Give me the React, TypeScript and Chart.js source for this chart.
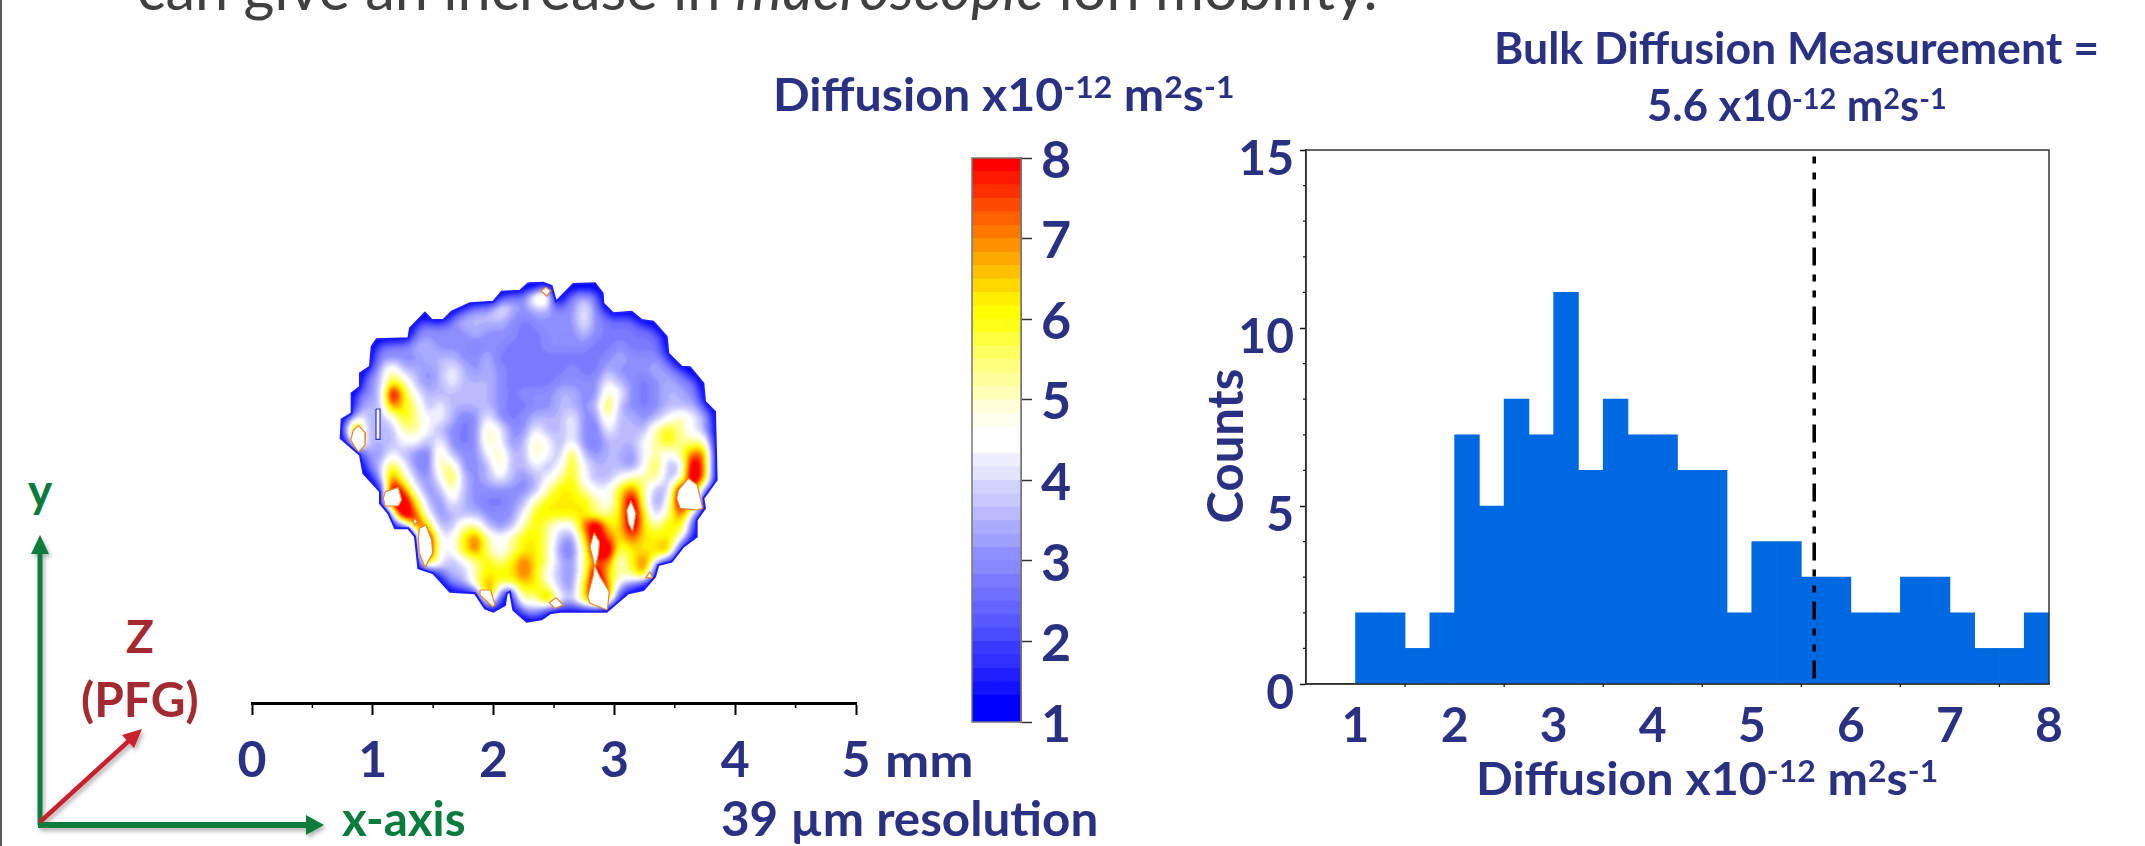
import React, { useEffect, useRef } from "react";
import { Chart, registerables } from "chart.js";
Chart.register(...registerables);

const NAVY = "#2a3183";
const FONT = "Lato, 'Open Sans', sans-serif";

// ---------- histogram ----------
const binCenters = [1.125,1.375,1.625,1.875,2.125,2.375,2.625,2.875,3.125,3.375,3.625,3.875,4.125,4.375,4.625,4.875,5.125,5.375,5.625,5.875,6.125,6.375,6.625,6.875,7.125,7.375,7.625,7.875];
const binCounts = [2,2,1,2,7,5,8,7,11,6,8,7,7,6,6,2,4,4,3,3,2,2,3,3,2,1,1,2];
const bulkDiffusion = 5.63;
const bulkLineTop = 14.82;
const histMinorX = [1.5,2.5,3.5,4.5,5.5,6.5,7.5];
const histMinorY = [1,2,3,4,6,7,8,9,11,12,13,14];

// ---------- colour bar ----------
const bandColors = ["#0000ff","#0000ff","#1212ff","#1f1fff","#2f2fff","#3a3aff","#4a4aff","#5858ff","#6464ff","#7070ff","#7a7aff","#8888ff","#8e8eff","#a0a0ff","#aaaaff","#babaff","#c8c8ff","#d2d2ff","#e4e4ff","#eeeeff","#ffffff","#ffffff","#fffff0","#ffffda","#ffffb8","#ffff9c","#ffff80","#ffff60","#ffff40","#ffff18","#ffff00","#ffee00","#ffd800","#ffc000","#ffa800","#ff9000","#ff7800","#ff6000","#ff4800","#ff3000","#ff1800","#ff0000"];
const barMin = 1;
const barMax = 8;

// ---------- diffusion map (one char per cell, see levelValues) ----------
const levelValues: Record<string, number> = { "0": 1.0, "1": 2.0, "2": 2.7, "3": 3.05, "4": 3.55, "5": 4.4, "6": 5.3, "7": 6.2, "8": 7.3, "9": 9 };
const cellSize = 36;
const cellX0 = 72;
const cellY0 = 78;
const mapRows = [
"00000000000000000600000000000000",
"00000000000004336703430000000000",
"00000000013445434433531000000000",
"00000023334444323333532221000000",
"00000133333433322333432222200000",
"00023344333233222333322322210000",
"00033334443342222222223433320000",
"00246443454343222223224333432000",
"00347643454443222233335432343200",
"03349754444443233344336532344310",
"03448764544443223344347432344430",
"36445765542353234445336443456540",
"58444665432365335445325444676540",
"08444554532365346545324445676660",
"06435432643356446547434435656880",
"00347532663346445457544435744980",
"00048643574345434567544566645980",
"00009853464333334677655786449860",
"00009974354322346777765796359860",
"00008985344433357777766797468600",
"00000797446643467655897797677400",
"00000089557865677643798787776200",
"00000079557865677632699677784000",
"00000008545676787643688578750000",
"00000000344677787543697668300000",
"00000000034686777643798430000000",
"00000000000383666854798200000000",
"00000000000030344433440000000000",
"00000000000000000000000000000000",
];
const outlineX = [625,670,695,708,760,825,848,850,880,935,965,1000,1040,1045,1085,1110,1150,1155,1185,1190,1150,1155,1130,1130,1090,1055,1015,1005,970,925,895,860,720,690,665,620,580,570,560,555,520,495,465,390,340,295,285,265,225,205,180,180,130,120,62,65,95,95,120,120,150,155,170,265,270,315,335,370,395,450,520,545,600,625];
const outlineY = [70,68,78,125,72,70,100,130,160,155,180,185,230,280,320,322,370,425,455,660,715,745,780,830,860,905,915,950,990,1000,1025,1055,1055,1060,1078,1085,1050,995,1000,1035,1055,1045,1000,995,940,925,830,805,805,760,730,695,640,585,535,478,460,400,380,340,320,260,238,235,205,158,180,180,155,130,125,95,92,70];
const holes: number[][][] = [
  [[116,497],[137,520],[135,555],[115,577],[92,540],[100,510],[116,497]],
  [[168,447],[180,447],[180,538],[170,538],[168,447]],
  [[196,695],[235,682],[245,720],[235,738],[195,738],[190,715],[196,695]],
  [[285,775],[292,785],[285,795],[280,785],[285,775]],
  [[298,805],[318,795],[335,840],[338,880],[315,922],[298,880],[295,830],[298,805]],
  [[480,990],[512,990],[525,1035],[518,1040],[480,1005],[480,990]],
  [[708,1013],[730,1035],[705,1045],[688,1028],[708,1013]],
  [[822,818],[838,845],[836,880],[826,920],[840,950],[868,995],[862,1050],[810,1030],[803,1010],[820,945],[823,915],[810,860],[822,818]],
  [[933,722],[948,760],[938,815],[925,790],[920,750],[933,722]],
  [[1105,655],[1132,675],[1148,745],[1130,750],[1080,745],[1070,715],[1075,690],[1105,655]],
  [[677,82],[692,92],[680,108],[663,92],[677,82]],
  [[990,935],[998,955],[978,952],[990,935]],
];
const rulerMinor = [0.5,1.5,2.5,3.5,4.5];

function minorTicks(id: string, axis: string, values: number[], len: number, color: string, w: number) {
  return {
    id,
    afterDraw(chart: any) {
      const s = chart.scales[axis];
      const a = chart.chartArea;
      const c = chart.ctx;
      c.save();
      c.strokeStyle = color;
      c.lineWidth = w;
      c.beginPath();
      for (const v of values) {
        const p = s.getPixelForValue(v);
        if (axis === "x") { c.moveTo(p, a.bottom); c.lineTo(p, a.bottom + len); }
        else { c.moveTo(a.left, p); c.lineTo(a.left - len, p); }
      }
      c.stroke();
      c.restore();
    },
  };
}

function framePlugin(color: string, w: number) {
  return {
    id: "frame",
    afterDatasetsDraw(chart: any) {
      const a = chart.chartArea;
      const c = chart.ctx;
      c.save();
      c.strokeStyle = color;
      c.lineWidth = w;
      c.strokeRect(a.left, a.top, a.right - a.left, a.bottom - a.top);
      c.restore();
    },
  };
}

const fixH = (h: number) => (s: any) => { s.height = h; s.paddingLeft = 0; s.paddingRight = 0; };
const fixW = (w: number) => (s: any) => { s.width = w; s.paddingTop = 0; s.paddingBottom = 0; };

const heatPlugin = {
  id: "heat",
  beforeDatasetsDraw(chart: any) {
    const sx = chart.scales.mapX;
    const sy = chart.scales.mapY;
    const W = chart.width, H = chart.height;
    const cells = chart.data.datasets[0].data;
    const outline = chart.data.datasets[1].data;
    const top = 9;
    const gray = (v: number) => Math.round(((v - 1) / (top - 1)) * 255);
    const g0 = gray(1);
    const base = document.createElement("canvas");
    base.width = W; base.height = H;
    const b = base.getContext("2d")!;
    b.fillStyle = `rgb(${g0},${g0},${g0})`;
    b.fillRect(0, 0, W, H);
    for (const cell of cells) {
      const x0 = sx.getPixelForValue(cell.x - cellSize / 2);
      const x1 = sx.getPixelForValue(cell.x + cellSize / 2);
      const y0 = sy.getPixelForValue(cell.y - cellSize / 2);
      const y1 = sy.getPixelForValue(cell.y + cellSize / 2);
      const g = gray(cell.v);
      b.fillStyle = `rgb(${g},${g},${g})`;
      b.fillRect(x0, y0, x1 - x0 + 0.5, y1 - y0 + 0.5);
    }
    const path = new Path2D();
    outline.forEach((p: any, i: number) => {
      const X = sx.getPixelForValue(p.x), Y = sy.getPixelForValue(p.y);
      if (i) path.lineTo(X, Y); else path.moveTo(X, Y);
    });
    path.closePath();
    // everything outside the sample and its rim reads as the lowest value
    b.strokeStyle = `rgb(${g0},${g0},${g0})`;
    b.lineWidth = 9;
    b.stroke(path);
    const soft = document.createElement("canvas");
    soft.width = W; soft.height = H;
    const sc = soft.getContext("2d")!;
    sc.filter = "blur(5.5px)";
    sc.drawImage(base, 0, 0);
    const img = sc.getImageData(0, 0, W, H);
    const n = bandColors.length;
    const rgb = bandColors.map((h) => [parseInt(h.slice(1, 3), 16), parseInt(h.slice(3, 5), 16), parseInt(h.slice(5, 7), 16)]);
    for (let i = 0; i < img.data.length; i += 4) {
      const v = 1 + (img.data[i] / 255) * (top - 1);
      const k = Math.max(0, Math.min(n - 1, Math.floor(((v - barMin) / (barMax - barMin)) * n)));
      img.data[i] = rgb[k][0]; img.data[i + 1] = rgb[k][1]; img.data[i + 2] = rgb[k][2]; img.data[i + 3] = 255;
    }
    sc.filter = "none";
    sc.putImageData(img, 0, 0);
    const c = chart.ctx;
    c.save();
    c.clip(path);
    c.filter = "blur(0.8px)";
    c.drawImage(soft, 0, 0);
    c.restore();
  },
};

function Txt(p: { x: number; base: number; size: number; color?: string; sx?: number; weight?: number; children: any }) {
  return (
    <div
      style={{
        position: "absolute", left: p.x, top: p.base - 0.887 * p.size, fontSize: p.size, lineHeight: 1,
        fontFamily: FONT, fontWeight: p.weight ?? 700, color: p.color ?? NAVY, whiteSpace: "pre",
        transform: `scaleX(${p.sx ?? 1})`, transformOrigin: "left center",
      }}
    >
      {p.children}
    </div>
  );
}
const Sup = (p: { children: any }) => (
  <span style={{ fontSize: "0.66em", verticalAlign: "0.42em", lineHeight: 0 }}>{p.children}</span>
);
const Unit = () => (<>Diffusion x10<Sup>-12</Sup> m<Sup>2</Sup>s<Sup>-1</Sup></>);

export default function App() {
  const histRef = useRef<HTMLCanvasElement>(null);
  const barRef = useRef<HTMLCanvasElement>(null);
  const mapRef = useRef<HTMLCanvasElement>(null);

  useEffect(() => {
    const tickFont = { family: FONT, size: 48, weight: "bold" as const };

    const hist = new Chart(histRef.current!, {
      type: "bar",
      data: {
        datasets: [
          {
            label: "Counts", data: binCenters.map((x, i) => ({ x, y: binCounts[i] })) as any,
            backgroundColor: "#0068e0", borderWidth: 0, barPercentage: 1, categoryPercentage: 1, grouped: false, order: 1,
          } as any,
          {
            type: "line", label: "Bulk", data: [{ x: bulkDiffusion, y: bulkLineTop }, { x: bulkDiffusion, y: 0 }] as any,
            borderColor: "#000", borderWidth: 3.5, borderDash: [7, 9, 7, 9, 18, 9], pointRadius: 0, order: 0,
          } as any,
        ],
      },
      options: {
        responsive: false, animation: false, devicePixelRatio: 1,
        layout: { padding: { top: 20, right: 51, left: 0, bottom: 0 } },
        plugins: { legend: { display: false }, tooltip: { enabled: false } },
        scales: {
          x: {
            type: "linear", min: 0.5, max: 8, offset: false,
            grid: { display: false, drawOnChartArea: false, offset: false, drawTicks: true, tickLength: 6, tickColor: "#111", tickWidth: 1.5 } as any,
            border: { color: "#222", width: 1.5 },
            ticks: { stepSize: 1, includeBounds: false, color: NAVY, font: tickFont, padding: 8, maxRotation: 0, autoSkip: false } as any,
            afterFit: fixH(86),
          },
          y: {
            min: 0, max: 15,
            grid: { drawOnChartArea: false, tickLength: 6, tickColor: "#111", tickWidth: 1.5 },
            border: { color: "#222", width: 1.5 },
            ticks: { stepSize: 5, color: NAVY, font: tickFont, padding: 6, labelOffset: 10 } as any,
            afterFit: fixW(106),
          },
        },
      } as any,
      plugins: [framePlugin("#333", 1.5), minorTicks("mx", "x", histMinorX, 3, "#111", 1.2), minorTicks("my", "y", histMinorY, 3, "#111", 1.2)] as any,
    });

    const bar = new Chart(barRef.current!, {
      type: "bar",
      data: {
        labels: ["D"],
        datasets: bandColors.map((color, i) => ({
          label: `band ${i}`,
          data: [[barMin + (i * (barMax - barMin)) / bandColors.length, barMin + ((i + 1) * (barMax - barMin)) / bandColors.length]] as any,
          backgroundColor: color, borderWidth: 0, barPercentage: 1, categoryPercentage: 1, grouped: false,
        })),
      },
      options: {
        responsive: false, animation: false, devicePixelRatio: 1,
        layout: { padding: { top: 18, right: 0, left: 12, bottom: 22 } },
        plugins: { legend: { display: false }, tooltip: { enabled: false } },
        scales: {
          x: { display: false },
          y: {
            position: "right", min: barMin, max: barMax,
            grid: { drawOnChartArea: false, tickLength: 11, tickColor: "#333", tickWidth: 1.5 },
            border: { color: "#777", width: 2 },
            ticks: { stepSize: 1, color: NAVY, font: { ...tickFont, size: 52 }, padding: 9, labelOffset: 3 } as any,
            afterFit: fixW(59),
          },
        },
      } as any,
      plugins: [framePlugin("#777", 1.5)] as any,
    });

    const cells: any[] = [];
    mapRows.forEach((row, j) => {
      for (let i = 0; i < row.length; i++) {
        cells.push({ x: cellX0 + i * cellSize, y: cellY0 + j * cellSize, v: levelValues[row[i]] });
      }
    });
    const outline = outlineX.map((x, i) => ({ x, y: outlineY[i] }));
    const map = new Chart(mapRef.current!, {
      type: "scatter",
      data: {
        datasets: [
          { label: "map", data: cells, pointRadius: 0, xAxisID: "mapX", yAxisID: "mapY" },
          { label: "outline", data: outline, showLine: true, borderColor: "#1c1cff", borderWidth: 2, pointRadius: 0, xAxisID: "mapX", yAxisID: "mapY" },
          ...holes.map((h, i) => ({
            label: `hole ${i}`, data: h.map(([x, y]) => ({ x, y })), showLine: true,
            borderColor: i === 1 ? "#2a2aff" : "#e8852a", borderWidth: 1.2, backgroundColor: "#fff", fill: "shape", pointRadius: 0,
            xAxisID: "mapX", yAxisID: "mapY",
          })),
        ],
      },
      options: {
        responsive: false, animation: false, devicePixelRatio: 1,
        layout: { padding: { top: 10, right: 24, left: 22, bottom: 0 } },
        plugins: { legend: { display: false }, tooltip: { enabled: false } },
        scales: {
          x: {
            type: "linear", min: 0, max: 5,
            grid: { drawOnChartArea: false, tickLength: 12, tickColor: "#000", tickWidth: 2 },
            border: { color: "#000", width: 3 },
            ticks: { stepSize: 1, color: NAVY, font: { ...tickFont, size: 50 }, padding: 16, maxRotation: 0 } as any,
            afterFit: fixH(87),
          },
          y: { display: false, min: 0, max: 1 },
          mapX: { type: "linear", display: false, min: -204, max: 1608 },
          mapY: { type: "linear", display: false, min: 30, max: 1329, reverse: true },
        },
      } as any,
      plugins: [heatPlugin, minorTicks("rx", "x", rulerMinor, 5, "#000", 1.5)] as any,
    });

    return () => { hist.destroy(); bar.destroy(); map.destroy(); };
  }, []);

  const GREEN = "#0a7b3e";
  const RED = "#c9202f";
  const DRED = "#a32a31";
  return (
    <div style={{ position: "fixed", left: 0, top: 0, width: 2145, height: 846, overflow: "hidden", background: "#fff" }}>
      <div style={{ position: "absolute", left: 0, top: 0, width: 2, height: 846, background: "#5a5a5a" }} />
      <Txt x={137} base={11} size={59.5} color="#404040" weight={400}>
        can give an increase in <i>macroscopic</i> ion mobility.
      </Txt>
      <Txt x={773} base={112} size={46} sx={1.05}><Unit /></Txt>
      <Txt x={1494} base={64} size={43} sx={1.038}>Bulk Diffusion Measurement =</Txt>
      <Txt x={1647} base={121} size={43} sx={1.015}>5.6 x10<Sup>-12</Sup> m<Sup>2</Sup>s<Sup>-1</Sup></Txt>
      <Txt x={1476} base={796} size={46} sx={1.052}><Unit /></Txt>
      <div style={{ position: "absolute", left: 1224, top: 446, fontFamily: FONT, fontWeight: 700, fontSize: 49, color: NAVY, lineHeight: 1, transform: "translate(-50%,-50%) rotate(-90deg)", whiteSpace: "pre" }}>Counts</div>
      <Txt x={885} base={778} size={46} sx={1.15}>mm</Txt>
      <Txt x={721} base={837} size={47} sx={1.05}>39 µm resolution</Txt>
      <Txt x={28} base={508} size={46} color={GREEN}>y</Txt>
      <Txt x={342} base={837} size={47} color={GREEN} sx={1.01}>x-axis</Txt>
      <Txt x={126} base={654} size={46} color={DRED}>Z</Txt>
      <Txt x={81} base={718} size={47} color={DRED} sx={1.02}>(PFG)</Txt>

      <svg width={2145} height={846} style={{ position: "absolute", left: 0, top: 0 }}>
        <defs>
          <filter id="sh" x="-20%" y="-20%" width="140%" height="140%">
            <feDropShadow dx="2" dy="3" stdDeviation="2" floodColor="#000" floodOpacity="0.3" />
          </filter>
        </defs>
        <g filter="url(#sh)">
          <line x1={40} y1={825} x2={40} y2={552} stroke={GREEN} strokeWidth={5} />
          <polygon points="40,535 31,554 49,554" fill={GREEN} />
          <line x1={38} y1={825} x2={306} y2={825} stroke={GREEN} strokeWidth={6} />
          <polygon points="324,825 306,815 306,835" fill={GREEN} />
          <line x1={40} y1={822} x2={132} y2={738} stroke={RED} strokeWidth={4.5} />
          <polygon points="142,729 122,735 134,748" fill={RED} />
        </g>
      </svg>

      <canvas ref={histRef} width={900} height={640} style={{ position: "absolute", left: 1200, top: 130 }} />
      <canvas ref={barRef} width={120} height={604} style={{ position: "absolute", left: 960, top: 140 }} />
      <canvas ref={mapRef} width={650} height={530} style={{ position: "absolute", left: 230, top: 260 }} />
    </div>
  );
}
